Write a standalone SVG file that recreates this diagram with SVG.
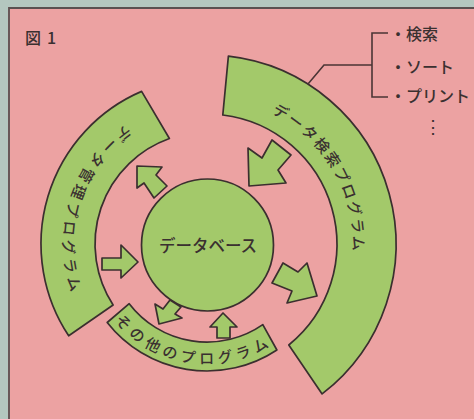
<svg xmlns="http://www.w3.org/2000/svg" width="474" height="419" viewBox="0 0 474 419">
<style>
.shape{fill:#a3c96a;stroke:#3b2f2f;stroke-width:1.7;stroke-linejoin:round}
.t{font-family:"Noto Sans CJK JP","Noto Sans CJK SC",sans-serif;fill:#3a3030;font-weight:500}
.arc{font-size:15px;letter-spacing:3px;dominant-baseline:central}
.line{fill:none;stroke:#4a3535;stroke-width:1.6}
</style>
<defs>
<path id="pBig" d="M220.3,91.6 A153,153 0 0 1 345.7,308.7"/>
<path id="pLeft" d="M165.8,113.3 A137,137 0 0 0 98.3,327.4"/>
<path id="pBottom" d="M105.6,294.0 A113,113 0 0 0 288.6,322.1"/>
</defs>
<rect x="0" y="0" width="474" height="419" fill="#eca2a2"/>
<rect x="0" y="0" width="474" height="7" fill="#b4c7bf"/>
<rect x="0" y="0" width="8" height="419" fill="#b4c7bf"/>
<path d="M474,8 H9 V419" fill="none" stroke="#5a5050" stroke-width="1.8"/>
<text class="t" x="25" y="44" font-size="16" letter-spacing="6">図1</text>

<g id="search-program">
<path class="shape" d="M228.4,56.2 A189,189 0 0 1 322.1,393.9 L288.8,345.0 A130,130 0 0 0 222.8,115.0 Z"/>
<text class="t arc"><textPath href="#pBig" startOffset="50%" text-anchor="middle">データ検索プログラム</textPath></text>
</g>
<g id="manage-program">
<path class="shape" d="M141.6,91.4 A166,166 0 0 0 68.7,335.8 L113.1,305.0 A112,112 0 0 1 169.4,138.5 Z"/>
<text class="t arc" style="letter-spacing:3.5px"><textPath href="#pLeft" startOffset="50%" text-anchor="middle">データ管理プログラム</textPath></text>
</g>
<g id="other-program">
<path class="shape" d="M129.2,303.7 A98,98 0 0 0 262.8,324.6 L276.9,350.0 A127,127 0 0 1 107.2,322.5 Z"/>
<text class="t arc" style="letter-spacing:3.4px"><textPath href="#pBottom" startOffset="50%" text-anchor="middle">その他のプログラム</textPath></text>
</g>
<g id="database">
<circle class="shape" cx="207.5" cy="245" r="66"/>
<text class="t" x="208" y="245" font-size="16.5" text-anchor="middle" dominant-baseline="central">データベース</text>
</g>
<g id="list">
<text class="t" x="390" y="40" font-size="16">・検索</text>
<text class="t" x="390" y="73" font-size="16">・ソート</text>
<text class="t" x="390" y="102" font-size="16">・プリント</text>
<text class="t" x="433" y="125" font-size="18" text-anchor="middle" dominant-baseline="central">⋮</text>
</g>
<g id="connectors">
<path class="shape" d="M137,166 L162,167 L156,175 L167,186 L154,198 L144,183 L137,188 Z"/>
<path class="shape" d="M102,258 L121,258 L121,245 L138,262 L121,278 L121,270 L102,270 Z"/>
<path class="shape" d="M249,186 L248,148 L262,158 L272,140 L291,155 L278,170 L286,183 Z"/>
<path class="shape" d="M272,283 L283,263 L298,272 L307,263 L317,296 L287,303 L292,291 Z"/>
<path class="shape" d="M159,324 L155,304 L163,309 L170,300 L181,307 L175,314 L182,318 Z"/>
<path class="shape" d="M223,313 L237,327 L230,327 L230,338 L217,338 L217,327 L210,327 Z"/>
<path class="line" d="M388,33 H372 V97 H388 M372,65 H324 L308,84"/>
</g>
</svg>
